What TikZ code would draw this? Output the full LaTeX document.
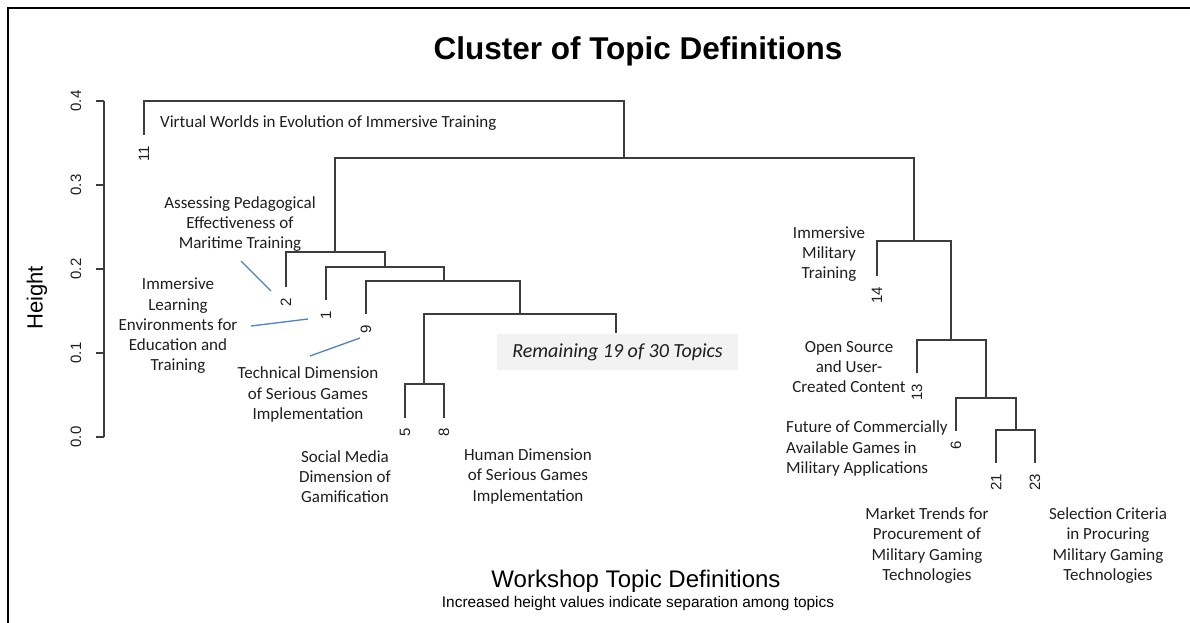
\documentclass[tikz,border=0pt]{standalone}
\usepackage{fontspec}
\setmainfont{Carlito}
\newfontfamily\arialfont{Liberation Sans}
\definecolor{dendro}{HTML}{3C3C3C}
\definecolor{callout}{HTML}{4F81BD}
\definecolor{boxfill}{HTML}{F2F2F2}
\definecolor{inktext}{HTML}{1E1E1E}
\begin{document}
\begin{tikzpicture}[x=1pt,y=-1pt,
  tree/.style={draw=dendro, line width=1.1pt},
  axisline/.style={draw=dendro, line width=1.1pt},
  pointer/.style={draw=callout, line width=1.3pt},
  topic/.style={font=\fontsize{17}{20.3}\selectfont, align=center, inner sep=0pt, text=inktext},
  leafnum/.style={font=\arialfont\fontsize{15}{16}\selectfont, rotate=90, anchor=east, inner sep=0pt, text=inktext},
  ticklabel/.style={font=\arialfont\fontsize{15}{16}\selectfont, rotate=90, inner sep=0pt, text=inktext},
  note/.style={font=\fontsize{20}{22}\selectfont\itshape, fill=boxfill, minimum width=241pt, minimum height=36pt, inner sep=0pt, text=inktext}
]
\useasboundingbox (0,0) rectangle (1190,623);

% frame
\draw[line width=2.4pt] (7.8,623) -- (7.8,7.8) -- (1190,7.8);

% titles
\node[font=\arialfont\bfseries\fontsize{31.5}{34}\selectfont, anchor=base, inner sep=0pt] (title) at (638,60) {Cluster of Topic Definitions};
\node[font=\arialfont\fontsize{24}{26}\selectfont, anchor=base, inner sep=0pt] (xlab) at (636,587) {Workshop Topic Definitions};
\node[font=\arialfont\fontsize{15.4}{17}\selectfont, anchor=base, inner sep=0pt] (sublab) at (638,607) {Increased height values indicate separation among topics};
\node[font=\arialfont\fontsize{22}{24}\selectfont, rotate=90, inner sep=0pt] (ylab) at (37,298) {Height};

% y axis
\coordinate (a0) at (104,437);
\coordinate (a4) at (104,101);
\draw[axisline] (a0) -- (a4);
\foreach \v/\y in {0.0/437,0.1/353,0.2/269,0.3/185,0.4/101}{
  \draw[axisline] (96,\y) -- (104,\y);
  \node[ticklabel] at (76,\y) {\v};
}

% leaf ends
\coordinate (L11) at (144,135);
\coordinate (L2) at (286,287);
\coordinate (L1) at (326,300);
\coordinate (L9) at (366,314);
\coordinate (L5) at (405,418);
\coordinate (L8) at (444,418);
\coordinate (Lrest) at (616,333);
\coordinate (L14) at (877,276);
\coordinate (L13) at (917,373);
\coordinate (L6) at (956,431);
\coordinate (L21) at (996,463);
\coordinate (L23) at (1035,463);

% merge points
\coordinate (M1) at (384,101);
\coordinate (M2) at (624,158);
\coordinate (M3) at (335,252);
\coordinate (M4) at (385,267);
\coordinate (M5) at (444,281);
\coordinate (M6) at (520,314);
\coordinate (M7) at (424,384);
\coordinate (M8) at (914,241);
\coordinate (M9) at (951,340);
\coordinate (M10) at (986,398);
\coordinate (M11) at (1016,430);

% dendrogram branches
\draw[tree] (L11) |- (M1) -| (M2);
\draw[tree] (M3) |- (M2) -| (M8);
\draw[tree] (L2) |- (M3) -| (M4);
\draw[tree] (L1) |- (M4) -| (M5);
\draw[tree] (L9) |- (M5) -| (M6);
\draw[tree] (M7) |- (M6) -| (Lrest);
\draw[tree] (L5) |- (M7) -| (L8);
\draw[tree] (L14) |- (M8) -| (M9);
\draw[tree] (L13) |- (M9) -| (M10);
\draw[tree] (L6) |- (M10) -| (M11);
\draw[tree] (L21) |- (M11) -| (L23);

% leaf numbers
\node[leafnum] (n11) at (144,146) {11};
\node[leafnum] (n2) at (286,298) {2};
\node[leafnum] (n1) at (326,311) {1};
\node[leafnum] (n9) at (366,325) {9};
\node[leafnum] (n5) at (405,428) {5};
\node[leafnum] (n8) at (444,428) {8};
\node[leafnum] (n14) at (877,287) {14};
\node[leafnum] (n13) at (917,384) {13};
\node[leafnum] (n6) at (956,441) {6};
\node[leafnum] (n21) at (996,474) {21};
\node[leafnum] (n23) at (1035,474) {23};

% remaining topics box
\node[note] (rest) at (617.5,352) {Remaining 19 of 30 Topics};

% topic names
\node[topic, anchor=west] (t11) at (160,123) {Virtual Worlds in Evolution of Immersive Training};
\node[topic] (t2) at (240,224) {Assessing Pedagogical\\Effectiveness of\\Maritime Training};
\node[topic] (t1) at (178,326) {Immersive\\Learning\\Environments for\\Education and\\Training};
\node[topic] (t9) at (308,394.5) {Technical Dimension\\of Serious Games\\Implementation};
\node[topic] (t5) at (345,476.5) {Social Media\\Dimension of\\Gamification};
\node[topic] (t8) at (528,476.5) {Human Dimension\\of Serious Games\\Implementation};
\node[topic] (t14) at (829,254) {Immersive\\Military\\Training};
\node[topic] (t13) at (849,367) {Open Source\\and User-\\Created Content};
\node[topic, anchor=west, align=left] (t6) at (786,448.5) {Future of Commercially\\Available Games in\\Military Applications};
\node[topic] (t21) at (927,545.5) {Market Trends for\\Procurement of\\Military Gaming\\Technologies};
\node[topic] (t23) at (1108,545.5) {Selection Criteria\\in Procuring\\Military Gaming\\Technologies};

% callout pointers
\coordinate (p2a) at (241,261);
\coordinate (p2b) at (271,291);
\coordinate (p1a) at (251,326);
\coordinate (p1b) at (308,319);
\coordinate (p9a) at (310,356);
\coordinate (p9b) at (360,338);
\draw[pointer] (p2a) -- (p2b);
\draw[pointer] (p1a) -- (p1b);
\draw[pointer] (p9a) -- (p9b);
\end{tikzpicture}
\end{document}
